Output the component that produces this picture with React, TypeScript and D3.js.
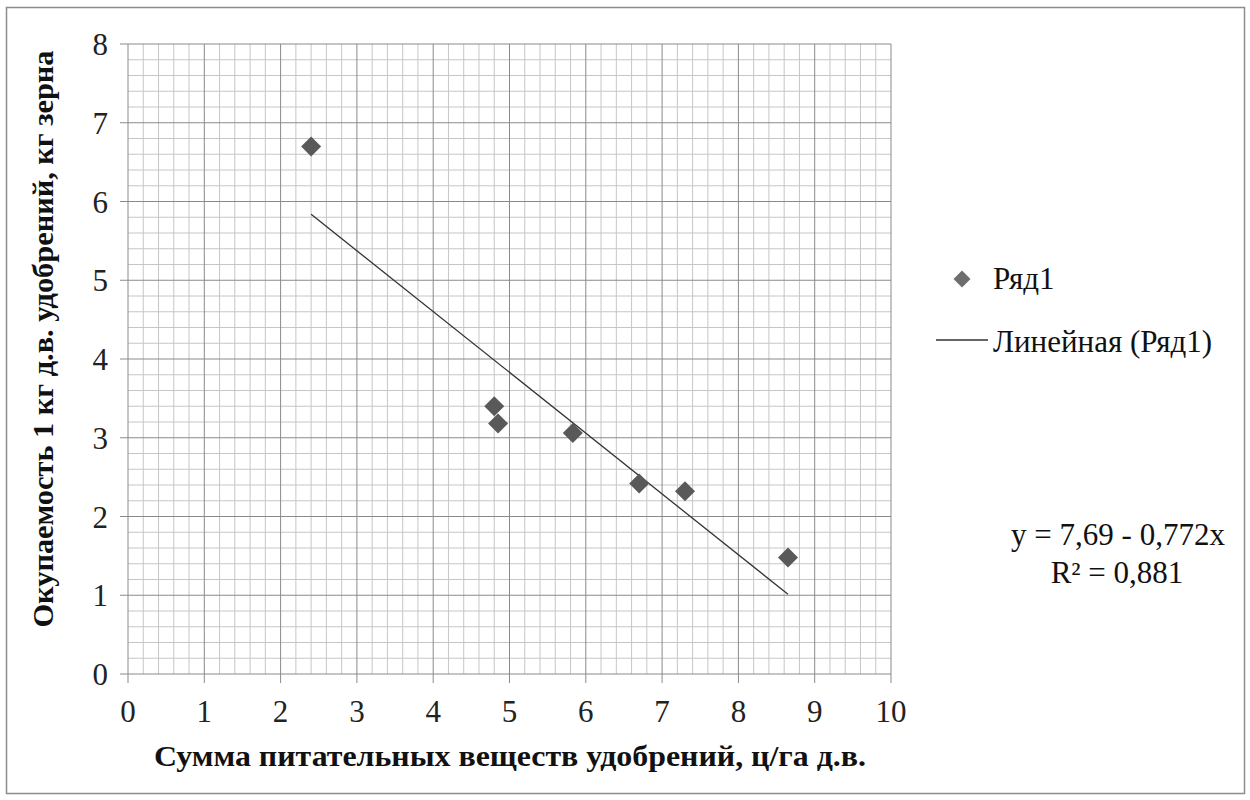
import React from "react";
import * as d3 from "d3";

const xValues = [2.4, 4.8, 4.85, 5.83, 6.7, 7.3, 8.65];
const yValues = [6.7, 3.4, 3.18, 3.06, 2.42, 2.32, 1.48];
const xTicks = [0, 1, 2, 3, 4, 5, 6, 7, 8, 9, 10];
const yTicks = [0, 1, 2, 3, 4, 5, 6, 7, 8];
const trendIntercept = 7.69;
const trendSlope = -0.772;
const seriesName = "Ряд1";
const trendName = "Линейная (Ряд1)";
const equationText = "y = 7,69 - 0,772x";
const r2Text = "R² = 0,881";
const xTitle = "Сумма питательных веществ удобрений, ц/га д.в.";
const yTitle = "Окупаемость 1 кг д.в. удобрений, кг зерна";

export default function App() {
  const W = 1250, H = 800;
  const left = 128, right = 891, top = 44, bottom = 674;
  const x = d3.scaleLinear().domain([0, 10]).range([left, right]);
  const y = d3.scaleLinear().domain([0, 8]).range([bottom, top]);
  const minorX = d3.range(0, 50).map((i) => i * 0.2).filter((v) => Math.abs(v - Math.round(v)) > 1e-6);
  const minorY = d3.range(0, 40).map((i) => i * 0.2).filter((v) => Math.abs(v - Math.round(v)) > 1e-6);
  const xMin = d3.min(xValues)!, xMax = d3.max(xValues)!;
  const line = d3.line<number>().x((v) => x(v)).y((v) => y(trendIntercept + trendSlope * v));
  const diamond = (cx: number, cy: number, r: number) =>
    `M${cx},${cy - r}L${cx + r},${cy}L${cx},${cy + r}L${cx - r},${cy}Z`;
  const tStyle = { fontFamily: "Liberation Serif" };
  const fs = 31;
  return (
    <svg width={W} height={H} style={{ position: "absolute", left: 0, top: 0 }}>
      <rect x={0} y={0} width={W} height={H} fill="#fff" />
      <rect x={6.5} y={7.5} width={1238} height={786} fill="none" stroke="#8c8c8c" strokeWidth={1.5} />
      {minorX.map((v) => (
        <line key={"mx" + v} x1={x(v)} x2={x(v)} y1={top} y2={bottom} stroke="#c6c6c6" strokeWidth={1} />
      ))}
      {minorY.map((v) => (
        <line key={"my" + v} x1={left} x2={right} y1={y(v)} y2={y(v)} stroke="#c6c6c6" strokeWidth={1} />
      ))}
      {xTicks.map((v) => (
        <line key={"Mx" + v} x1={x(v)} x2={x(v)} y1={top} y2={bottom + 9} stroke="#8a8a8a" strokeWidth={1} />
      ))}
      {yTicks.map((v) => (
        <line key={"My" + v} x1={left - 8} x2={right} y1={y(v)} y2={y(v)} stroke="#8a8a8a" strokeWidth={1} />
      ))}
      {yTicks.map((v) => (
        <text key={"yl" + v} style={tStyle} x={108} y={y(v) + 11} textAnchor="end" fontSize={fs} fill="#222">{v}</text>
      ))}
      {xTicks.map((v) => (
        <text key={"xl" + v} style={tStyle} x={x(v)} y={722} textAnchor="middle" fontSize={fs} fill="#222">{v}</text>
      ))}
      <path d={line([xMin, xMax]) || ""} fill="none" stroke="#333" strokeWidth={1.3} />
      {xValues.map((v, i) => (
        <path key={"p" + i} d={diamond(x(v), y(yValues[i]), 10)} fill="#595959" />
      ))}
      <text style={tStyle} x={510} y={766} textAnchor="middle" fontSize={30} fontWeight="bold" textLength={712} lengthAdjust="spacingAndGlyphs" fill="#111">{xTitle}</text>
      <text style={tStyle} transform={`translate(53,339) rotate(-90)`} textAnchor="middle" fontSize={30} fontWeight="bold" textLength={577} lengthAdjust="spacingAndGlyphs" fill="#111">{yTitle}</text>
      <path d={diamond(962, 279, 8.5)} fill="#6e6e6e" />
      <text style={tStyle} x={993} y={289} fontSize={fs} fill="#111">{seriesName}</text>
      <line x1={936} x2={988} y1={340} y2={340} stroke="#333" strokeWidth={1.3} />
      <text style={tStyle} x={993} y={352} fontSize={fs} fill="#111">{trendName}</text>
      <text style={tStyle} x={1118} y={545} textAnchor="middle" fontSize={fs} fill="#111">{equationText}</text>
      <text style={tStyle} x={1117} y={583} textAnchor="middle" fontSize={fs} fill="#111">{r2Text}</text>
    </svg>
  );
}
